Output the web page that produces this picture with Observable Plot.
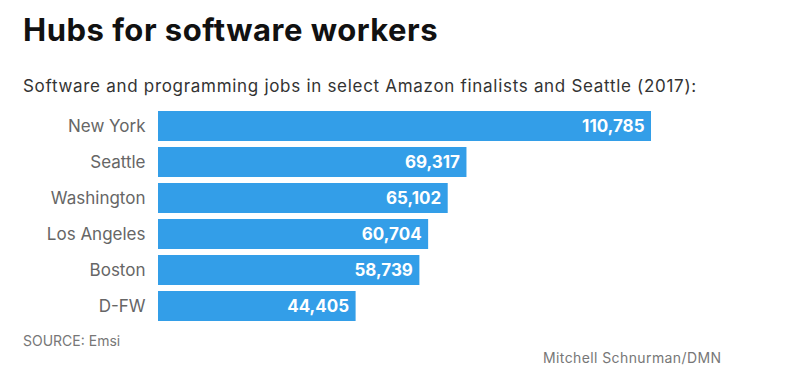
<!DOCTYPE html>
<html>
<head>
<meta charset="utf-8">
<script src="https://cdn.jsdelivr.net/npm/d3@7"></script>
<script src="https://cdn.jsdelivr.net/npm/@observablehq/plot@0.6"></script>
<style>
  body { margin: 0; background: #fff; font-family: Inter, "Open Sans", sans-serif; }
  #wrap { position: relative; width: 793px; height: 378px; overflow: hidden; }
  #title { position: absolute; left: 23px; top: 11px; font-size: 31px; font-weight: 700; color: #111; white-space: nowrap; letter-spacing: 0.5px; }
  #subtitle { position: absolute; left: 23px; top: 76px; font-size: 17px; color: #333; white-space: nowrap; letter-spacing: 0.7px; }
  #chart { position: absolute; left: 0; top: 100px; }
  #source { position: absolute; left: 23px; top: 332px; font-size: 14px; color: #777; white-space: nowrap; }
  #credit { position: absolute; left: 543px; top: 349px; font-size: 14px; color: #777; white-space: nowrap; letter-spacing: 0.4px; }
</style>
</head>
<body>
<div id="wrap">
  <div id="title">Hubs for software workers</div>
  <div id="subtitle">Software and programming jobs in select Amazon finalists and Seattle (2017):</div>
  <div id="chart"></div>
  <div id="source">SOURCE: Emsi</div>
  <div id="credit">Mitchell Schnurman/DMN</div>
</div>
<script>
const cities = ["New York", "Seattle", "Washington", "Los Angeles", "Boston", "D-FW"];
const jobs = [110785, 69317, 65102, 60704, 58739, 44405];

const data = cities.map((c, i) => ({city: c, jobs: jobs[i]}));
const fmt = d3.format(",");

const plot = Plot.plot({
  width: 793,
  height: 230,
  marginLeft: 158,
  marginRight: 142,
  marginTop: 10,
  marginBottom: 9,
  style: {fontFamily: "Inter, 'Open Sans', sans-serif", color: "#666", background: "transparent"},
  x: {domain: [0, 110785], range: [158, 651], axis: null},
  y: {domain: cities, range: [10, 221], paddingInner: 0.17, paddingOuter: 0, label: null},
  marks: [
    Plot.barX(data, {x: "jobs", y: "city", fill: "#339ee8"}),
    Plot.text(data, {x: "jobs", y: "city", text: d => fmt(d.jobs), textAnchor: "end", dx: -7,
      fill: "white", fontWeight: 700, fontSize: 17}),
    Plot.axisY({tickSize: 0, tickPadding: 13, fontSize: 17, label: null})
  ]
});
document.getElementById("chart").appendChild(plot);
</script>
</body>
</html>
